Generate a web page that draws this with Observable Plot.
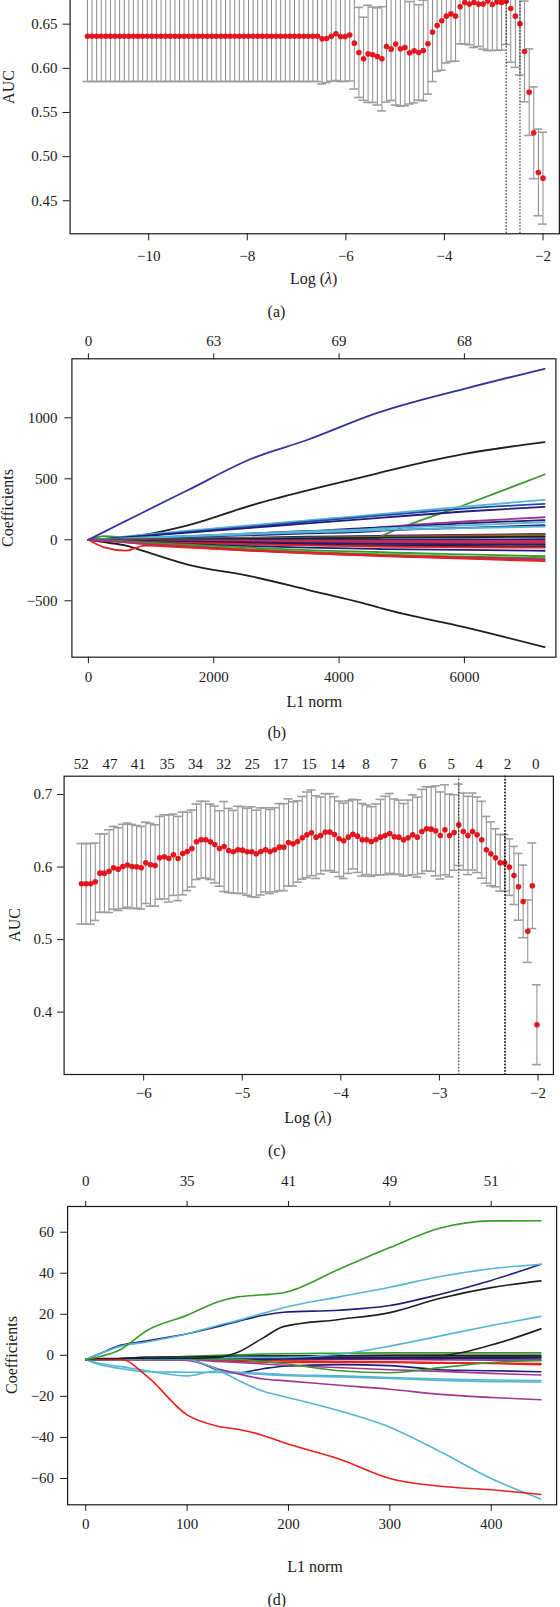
<!DOCTYPE html>
<html><head><meta charset="utf-8">
<script src="https://cdn.jsdelivr.net/npm/d3@7"></script>
<script src="https://cdn.jsdelivr.net/npm/@observablehq/plot@0.6"></script>
<style>
body{margin:0;background:#fff;}
#page{position:relative;width:560px;height:1607px;overflow:hidden;background:#fff;font-family:"Liberation Serif","DejaVu Serif",serif;color:#1a1a1a;}
.lbl{position:absolute;font-size:16px;line-height:1;white-space:nowrap;transform:translate(-50%,-50%);}
.rot{transform:translate(-50%,-50%) rotate(-90deg);}
</style></head><body><div id="page"></div>
<script>
// ---------- Panel (a): CV AUC vs log(lambda) ----------
const aLogLambda = [-11.243,-11.150,-11.056,-10.963,-10.870,-10.776,-10.683,-10.590,-10.496,-10.403,
-10.309,-10.216,-10.123,-10.029,-9.936,-9.843,-9.749,-9.656,-9.563,-9.469,
-9.376,-9.282,-9.189,-9.096,-9.002,-8.909,-8.816,-8.722,-8.629,-8.536,
-8.442,-8.349,-8.255,-8.162,-8.069,-7.975,-7.882,-7.789,-7.695,-7.602,
-7.509,-7.415,-7.322,-7.228,-7.135,-7.042,-6.948,-6.855,-6.762,-6.668,
-6.575,-6.482,-6.388,-6.295,-6.201,-6.108,-6.015,-5.921,-5.828,-5.735,
-5.641,-5.548,-5.455,-5.361,-5.268,-5.175,-5.081,-4.988,-4.894,-4.801,
-4.708,-4.614,-4.521,-4.428,-4.334,-4.241,-4.147,-4.054,-3.961,-3.867,
-3.774,-3.681,-3.587,-3.494,-3.401,-3.307,-3.214,-3.120,-3.027,-2.934,
-2.840,-2.747,-2.654,-2.560,-2.467,-2.374,-2.280,-2.187,-2.093,-2.000];
const aAUC = [0.6363,0.6363,0.6363,0.6363,0.6363,0.6363,0.6363,0.6363,0.6363,0.6363,
0.6363,0.6363,0.6363,0.6363,0.6363,0.6363,0.6363,0.6363,0.6363,0.6363,
0.6363,0.6363,0.6363,0.6363,0.6363,0.6363,0.6363,0.6363,0.6363,0.6363,
0.6363,0.6363,0.6363,0.6363,0.6363,0.6363,0.6363,0.6363,0.6363,0.6363,
0.6363,0.6363,0.6363,0.6363,0.6363,0.6363,0.6363,0.6363,0.6363,0.6363,
0.6363,0.6334,0.6338,0.6364,0.6391,0.6361,0.6361,0.6376,0.6285,0.6180,
0.6108,0.6164,0.6153,0.6134,0.6108,0.6247,0.6217,0.6274,0.6221,0.6236,
0.6176,0.6198,0.6180,0.6202,0.6278,0.6410,0.6485,0.6538,0.6591,0.6617,
0.6591,0.6697,0.6746,0.6727,0.6746,0.6727,0.6727,0.6761,0.6723,0.6753,
0.6746,0.6760,0.6678,0.6591,0.6504,0.6191,0.5730,0.5270,0.4821,0.4756];
const aSE = [0.0512,0.0512,0.0512,0.0512,0.0512,0.0512,0.0512,0.0512,0.0512,0.0512,
0.0512,0.0512,0.0512,0.0512,0.0512,0.0512,0.0512,0.0512,0.0512,0.0512,
0.0512,0.0512,0.0512,0.0512,0.0512,0.0512,0.0512,0.0512,0.0512,0.0512,
0.0512,0.0512,0.0512,0.0512,0.0512,0.0512,0.0512,0.0512,0.0512,0.0512,
0.0512,0.0512,0.0512,0.0512,0.0512,0.0512,0.0512,0.0512,0.0512,0.0512,
0.0512,0.051,0.050,0.051,0.053,0.051,0.051,0.052,0.052,0.051,
0.047,0.055,0.054,0.055,0.059,0.063,0.058,0.069,0.065,0.066,
0.058,0.059,0.054,0.057,0.057,0.056,0.052,0.056,0.053,0.054,
0.051,0.042,0.047,0.046,0.051,0.048,0.051,0.056,0.052,0.055,
0.054,0.049,0.061,0.058,0.058,0.057,0.049,0.052,0.049,0.052];
const aCutoffs = [-2.746, -2.467];
const aXTicks = [-10, -8, -6, -4, -2];
const aYTicks = [0.45, 0.50, 0.55, 0.60, 0.65];

// ---------- Panel (b): coefficient paths vs L1 norm ----------
const bL1 = [0, 250, 600, 900, 1600, 2600, 3500, 4600, 4700, 6000, 7280];
const bColor = ["#1f1f78","#1e1e24","#a13590","#e8211d",
"#1e1e24","#1e1e24","#3a9a2c","#55b5d5","#2447b0","#1f1f78","#a13590","#1f1f78","#55b5d5","#1f1f78","#55b5d5",
"#e8211d","#3a9a2c","#1e1e24","#1f1f78","#a13590","#e8211d","#a13590","#1f1f78","#1e1e24","#1f1f78","#e8211d","#1f1f78",
"#3a9a2c","#3a9a2c","#e8211d","#a13590","#e8211d","#33339c"];
const bCoef = [
 [0, 1, 3, 5, 10, 18, 25, 32, 33, 40, 48],
 [0, -1, -2, -3, -6, -10, -13, -16, -16, -20, -25],
 [0, 1, 2, 4, 7, 10, 14, 18, 18, 22, 28],
 [0, -2, -6, -9, -14, -20, -26, -30, -31, -35, -38],
 [0, 5, 22, 42, 120, 282, 405, 543, 556, 705, 800],
 [0, -20, -48, -95, -205, -300, -410, -550, -565, -716, -880],
 [0, 30, 18, 8, 5, 5, 5, 10, 35, 285, 535],
 [0, 10, 28, 42, 75, 120, 160, 208, 213, 272, 328],
 [0, 8, 22, 35, 65, 108, 148, 196, 200, 256, 295],
 [0, 6, 19, 31, 58, 98, 135, 178, 182, 232, 270],
 [0, 3, 8, 14, 25, 45, 65, 100, 105, 150, 185],
 [0, 3, 10, 17, 30, 52, 72, 100, 102, 135, 162],
 [0, 4, 12, 19, 32, 52, 70, 92, 95, 118, 144],
 [0, 2, 7, 12, 22, 38, 52, 72, 75, 98, 120],
 [0, 3, 10, 16, 28, 45, 60, 78, 80, 95, 109],
 [0, 0, 2, 3, 6, 12, 18, 26, 27, 35, 45],
 [0, 2, 4, 6, 8, 12, 16, 22, 23, 28, 35],
 [0, 0, 1, 2, 4, 8, 12, 16, 17, 21, 25],
 [0, -2, -3, -4, -5, -4, -2, 0, 0, 3, 5],
 [0, -1, -3, -4, -5, -6, -7, -8, -8, -9, -10],
 [0, -2, -4, -6, -9, -12, -15, -17, -17, -19, -20],
 [0, -2, -5, -8, -12, -18, -24, -29, -30, -33, -35],
 [0, -3, -7, -10, -15, -22, -28, -33, -34, -37, -40],
 [0, -3, -9, -13, -20, -30, -38, -46, -47, -51, -55],
 [0, -4, -10, -15, -23, -34, -44, -52, -53, -57, -60],
 [0, -4, -10, -16, -25, -36, -46, -55, -56, -61, -65],
 [0, -5, -13, -20, -35, -52, -65, -75, -76, -83, -90],
 [0, -3, -13, -22, -40, -65, -85, -100, -102, -120, -135],
 [0, -5, -17, -28, -50, -78, -100, -118, -120, -138, -150],
 [0, -8, -21, -33, -55, -85, -105, -125, -127, -145, -160],
 [0, -6, -21, -35, -60, -90, -112, -132, -134, -150, -165],
 [0, -62, -88, -48, -65, -88, -110, -130, -132, -155, -175],
 [0, 65, 155, 232, 410, 664, 820, 1038, 1055, 1238, 1402]
];
const bXTicks = [0, 2000, 4000, 6000];
const bTopLabels = ["0", "63", "69", "68"];
const bYTicks = [-500, 0, 500, 1000];

// ---------- Panel (c): CV AUC vs log(lambda) ----------
const cLogLambda = [-6.631,-6.584,-6.538,-6.491,-6.444,-6.398,-6.351,-6.304,-6.258,-6.211,
-6.164,-6.118,-6.071,-6.024,-5.978,-5.931,-5.884,-5.838,-5.791,-5.744,
-5.698,-5.651,-5.604,-5.558,-5.511,-5.464,-5.418,-5.371,-5.324,-5.278,
-5.231,-5.184,-5.138,-5.091,-5.044,-4.998,-4.951,-4.904,-4.858,-4.811,
-4.764,-4.718,-4.671,-4.624,-4.578,-4.531,-4.484,-4.438,-4.391,-4.344,
-4.298,-4.251,-4.204,-4.158,-4.111,-4.064,-4.018,-3.971,-3.924,-3.878,
-3.831,-3.784,-3.738,-3.691,-3.644,-3.598,-3.551,-3.504,-3.458,-3.411,
-3.364,-3.318,-3.271,-3.224,-3.178,-3.131,-3.084,-3.038,-2.991,-2.944,
-2.898,-2.851,-2.804,-2.758,-2.711,-2.664,-2.618,-2.571,-2.524,-2.478,
-2.431,-2.384,-2.338,-2.291,-2.244,-2.198,-2.151,-2.104,-2.058,-2.011];
const cAUC = [0.5769,0.5769,0.5769,0.5797,0.5916,0.5916,0.5943,0.5990,0.5971,0.6008,
0.6026,0.6008,0.6003,0.5990,0.6058,0.6031,0.6022,0.6127,0.6141,0.6118,
0.6169,0.6118,0.6187,0.6215,0.6256,0.6348,0.6376,0.6376,0.6348,0.6311,
0.6256,0.6283,0.6228,0.6210,0.6238,0.6233,0.6210,0.6210,0.6183,0.6215,
0.6238,0.6215,0.6238,0.6274,0.6274,0.6339,0.6320,0.6352,0.6403,0.6444,
0.6472,0.6412,0.6435,0.6481,0.6481,0.6449,0.6389,0.6362,0.6412,0.6453,
0.6426,0.6376,0.6376,0.6352,0.6380,0.6412,0.6435,0.6463,0.6417,0.6412,
0.6376,0.6403,0.6444,0.6412,0.6490,0.6527,0.6522,0.6499,0.6435,0.6513,
0.6435,0.6476,0.6582,0.6490,0.6435,0.6490,0.6444,0.6376,0.6238,0.6183,
0.6127,0.6058,0.6058,0.5999,0.5884,0.5728,0.5526,0.5116,0.5742,0.3827];
const cSE = [0.0555,0.0555,0.0555,0.0533,0.054,0.054,0.057,0.057,0.057,0.058,
0.058,0.058,0.057,0.057,0.056,0.057,0.056,0.057,0.058,0.060,
0.056,0.058,0.057,0.054,0.053,0.052,0.053,0.053,0.052,0.053,
0.052,0.062,0.058,0.057,0.060,0.060,0.060,0.062,0.060,0.060,
0.058,0.058,0.058,0.060,0.060,0.060,0.058,0.056,0.057,0.059,
0.059,0.057,0.053,0.053,0.053,0.052,0.052,0.052,0.050,0.048,
0.050,0.050,0.048,0.048,0.049,0.052,0.054,0.055,0.052,0.051,
0.050,0.052,0.055,0.055,0.058,0.058,0.058,0.062,0.060,0.062,
0.057,0.052,0.056,0.053,0.054,0.053,0.052,0.053,0.046,0.044,
0.040,0.039,0.039,0.039,0.040,0.046,0.050,0.043,0.059,0.055];
const cCutoffs = [-2.804, -2.338, -2.331];
const cTopPos = [-6.634,-6.341,-6.054,-5.761,-5.475,-5.188,-4.898,-4.612,-4.322,-4.033,-3.746,-3.460,-3.171,-2.881,-2.595,-2.309,-2.022];
const cTopLabels = ["52","47","41","35","34","32","25","17","15","14","8","7","6","5","4","2","0"];
const cXTicks = [-6, -5, -4, -3, -2];
const cYTicks = [0.4, 0.5, 0.6, 0.7];

// ---------- Panel (d): coefficient paths vs L1 norm ----------
const dL1 = [0, 10, 35, 60, 100, 130, 150, 175, 195, 250, 300, 350, 400, 449];
const dColor = ["#1e1e24","#1f1f78","#a13590","#e8211d","#1e1e24","#1f1f78","#3a9a2c","#1f1f78","#e8211d",
"#a13590","#55b5d5","#55b5d5","#3a9a2c","#1e1e24","#55b5d5","#a13590","#55b5d5","#e8211d","#1e1e24","#1f1f78","#55b5d5","#3a9a2c"];
const dCoef = [
 [-2, -2, -1.5, -1, -0.8, -0.5, -0.5, -0.3, -0.3, -0.2, 0, 0, 0, 0],
 [-2, -2, -2, -1.8, -1.5, -1.5, -1.5, -1.3, -1.2, -1, -1, -1, -1, -1],
 [-2, -2, -2, -2, -2, -2, -2, -2, -2, -2, -2, -2.2, -2.4, -2.5],
 [-2, -2, -2, -2, -2, -2, -2.2, -2.5, -2.7, -3, -3.2, -3.5, -4, -4.5],
 [-2, -2, -2, -2, -2, -2, -2, -2, -1.5, -1.5, -1.2, -1, -0.8, -0.8],
 [-2, -2, -2, -2, -2, -2, -2, -1.8, -1.6, -1.5, -1.5, -1.5, -1.6, -1.8],
 [-2, -2, -2, -1.5, -0.5, 0, 0.3, 0.6, 0.8, 1, 1.2, 1.2, 1.2, 1.2],
 [-2, -2, -2, -2, -2, -7, -8.5, -6.5, -5.3, -4.5, -5, -7, -7.5, -8],
 [-2, -2, -2, -2, -2, -2.5, -3, -3.3, -3.5, -3.5, -3.5, -3.8, -3.8, -4],
 [-2, -2, -2, -2, -2, -3, -3.5, -4.2, -4.8, -6, -7, -7.8, -8.8, -9.6],
 [-2, -3.5, -5.5, -7.5, -10, -7.5, -8.3, -8.8, -9.3, -10, -10.8, -11.5, -12, -12.3],
 [-2, -4, -6.5, -8, -8.2, -8.3, -8.7, -9.3, -9.8, -10.5, -11.3, -12.2, -12.8, -13],
 [-2, -2, -2, -2, -2, -2, -2, -3, -4, -7.5, -8.5, -6, -3.5, -2.5],
 [-2, -2, -1.5, -1, -0.8, -0.6, -0.5, -0.4, -0.3, -0.2, -0.1, 0, 5, 12.9],
 [-2, -2, -2, -1.5, -1.5, -1.2, -1, -1, -1, 0.5, 4.5, 9.5, 14.5, 19],
 [-2, -2, -2, -2, -2.5, -6.5, -9, -11.5, -12.3, -14.6, -16.5, -19, -20.5, -21.6],
 [-2, -2, -2, -2, -2, -7, -12, -17.5, -20, -27, -35, -47, -60, -70],
 [-2, -2, -2, -10, -29, -34.5, -36, -39, -42.5, -50.5, -60, -63.8, -65.5, -67.8],
 [-2, -1.5, -1.5, -1.5, -1.5, -1, 1.5, 8.5, 14, 17.5, 20.8, 27.8, 33, 36.3],
 [-2, 0, 5, 7, 10.5, 14, 16.5, 19.5, 21, 22, 24.3, 29.8, 36.5, 44.4],
 [-2, 0, 4.5, 6.5, 10.5, 14.5, 17, 20.5, 23.2, 28.5, 33.2, 38.4, 42.2, 44.4],
 [-2, -1, 3, 12, 19.5, 26, 28.5, 29.5, 30.5, 42, 52.5, 62, 65.5, 65.6]
];
const dXTicks = [0, 100, 200, 300, 400];
const dTopLabels = ["0", "35", "41", "49", "51"];
const dYTicks = [-60, -40, -20, 0, 20, 40, 60];

// ---------- drawing ----------
const page = document.getElementById("page");
const INK = "#1a1a1a";
const fmtInt = d3.format("d");

function place(svg, top) {
  svg.style.position = "absolute";
  svg.style.left = "0px";
  svg.style.top = top + "px";
  svg.style.maxWidth = "none";
  page.appendChild(svg);
}
function baseStyle() {
  return {fontFamily: "'Liberation Serif', 'DejaVu Serif', serif", fontSize: "15px", color: INK, background: "transparent", overflow: "visible"};
}
function cvMarks(xs, auc, se, cutoffs) {
  const rows = xs.map((x, i) => ({x, y: auc[i], lo: auc[i] - se[i], hi: auc[i] + se[i]}));
  return [
    Plot.ruleX(rows, {x: "x", y1: "lo", y2: "hi", stroke: "#8a8a8a", strokeWidth: 1}),
    Plot.ruleY(rows, {x1: "x", x2: "x", y: "hi", stroke: "#9e9e9e", strokeWidth: 1.6, insetLeft: -4.5, insetRight: -4.5}),
    Plot.ruleY(rows, {x1: "x", x2: "x", y: "lo", stroke: "#9e9e9e", strokeWidth: 1.6, insetLeft: -4.5, insetRight: -4.5}),
    Plot.dot(rows, {x: "x", y: "y", r: 2.8, fill: "#e3161e", stroke: "none"}),
    Plot.ruleX(cutoffs, {stroke: "#111", strokeWidth: 1, strokeDasharray: "1.6,1.6"})
  ];
}
function pathRows(xs, coefs, colors) {
  return coefs.flatMap((vals, k) => vals.map((v, i) => ({x: xs[i], y: v, k, c: colors[k]})));
}

// Panel a
place(Plot.plot({
  width: 560, height: 373.3, marginTop: 40.4, marginBottom: 40, marginLeft: 69.6, marginRight: 1.1,
  x: {domain: [-11.595, -1.667]}, y: {domain: [0.4126, 0.7443]},
  style: baseStyle(),
  marks: [
    ...cvMarks(aLogLambda, aAUC, aSE, aCutoffs),
    Plot.frame({stroke: INK, strokeWidth: 1.2}),
    Plot.axisX(aXTicks, {tickSize: 7, tickPadding: 9.2, label: null, tickFormat: fmtInt}),
    Plot.axisY(aYTicks, {tickSize: 7, tickPadding: 5.5, label: null, tickFormat: d3.format(".2f")})
  ]
}), -100);

// Panel b
place(Plot.plot({
  width: 560, height: 376.7, marginTop: 38.3, marginBottom: 40, marginLeft: 71.4, marginRight: 4.6,
  x: {domain: [-263, 7460]}, y: {domain: [-962.3, 1483.6]},
  color: {type: "identity"},
  style: baseStyle(),
  marks: [
    Plot.line(pathRows(bL1, bCoef, bColor), {x: "x", y: "y", z: "k", stroke: "c", strokeWidth: 1.8, curve: "monotone-x"}),
    Plot.frame({stroke: INK, strokeWidth: 1.2}),
    Plot.axisX(bXTicks, {tickSize: 6.5, tickPadding: 7.8, label: null, tickFormat: fmtInt}),
    Plot.axisX(bXTicks, {anchor: "top", tickSize: 6, tickPadding: 7, label: null, tickFormat: d => bTopLabels[bXTicks.indexOf(d)]}),
    Plot.axisY(bYTicks, {tickSize: 7, tickPadding: 7.3, label: null, tickFormat: fmtInt})
  ]
}), 320);

// Panel c
place(Plot.plot({
  width: 560, height: 374, marginTop: 35.7, marginBottom: 40, marginLeft: 63.6, marginRight: 7.1,
  x: {domain: [-6.807, -1.844]}, y: {domain: [0.3141, 0.7252]},
  style: baseStyle(),
  marks: [
    ...cvMarks(cLogLambda, cAUC, cSE, cCutoffs),
    Plot.frame({stroke: INK, strokeWidth: 1.2}),
    Plot.axisX(cXTicks, {tickSize: 6.5, tickPadding: 6.5, label: null, tickFormat: fmtInt}),
    Plot.axisX(cTopPos, {anchor: "top", tickSize: 0, tickPadding: 7.4, label: null, tickFormat: d => cTopLabels[cTopPos.indexOf(d)]}),
    Plot.axisY(cYTicks, {tickSize: 6.5, tickPadding: 5.3, label: null, tickFormat: d3.format(".1f")})
  ]
}), 740);

// Panel d
place(Plot.plot({
  width: 560, height: 379.3, marginTop: 41, marginBottom: 40, marginLeft: 67.1, marginRight: 3.9,
  x: {domain: [-17.9, 464.5]}, y: {domain: [-72.81, 72.52]},
  color: {type: "identity"},
  style: baseStyle(),
  marks: [
    Plot.line(pathRows(dL1, dCoef, dColor), {x: "x", y: "y", z: "k", stroke: "c", strokeWidth: 1.6, curve: "monotone-x"}),
    Plot.frame({stroke: INK, strokeWidth: 1.2}),
    Plot.axisX(dXTicks, {tickSize: 6.5, tickPadding: 6.8, label: null, tickFormat: fmtInt}),
    Plot.axisX(dXTicks, {anchor: "top", tickSize: 6, tickPadding: 14.5, label: null, tickFormat: d => dTopLabels[dXTicks.indexOf(d)]}),
    Plot.axisY(dYTicks, {tickSize: 7, tickPadding: 6.5, label: null, tickFormat: fmtInt})
  ]
}), 1165);

// Axis titles and panel captions
const texts = [
  ["AUC", 8.5, 86.9, true], ["Log (<i>λ</i>)", 313.6, 279, false], ["(a)", 276.5, 312, false],
  ["Coefficients", 7.9, 507.5, true], ["L1 norm", 314.3, 701.7, false], ["(b)", 276.8, 733, false],
  ["AUC", 14.8, 925, true], ["Log (<i>λ</i>)", 307.9, 1118, false], ["(c)", 276.8, 1150.7, false],
  ["Coefficients", 11.6, 1355, true], ["L1 norm", 315, 1566.7, false], ["(d)", 276.8, 1600, false]
];
for (const [t, x, y, rot] of texts) {
  const el = document.createElement("div");
  el.className = "lbl" + (rot ? " rot" : "");
  el.innerHTML = t;
  el.style.left = x + "px";
  el.style.top = y + "px";
  page.appendChild(el);
}
</script></body></html>
